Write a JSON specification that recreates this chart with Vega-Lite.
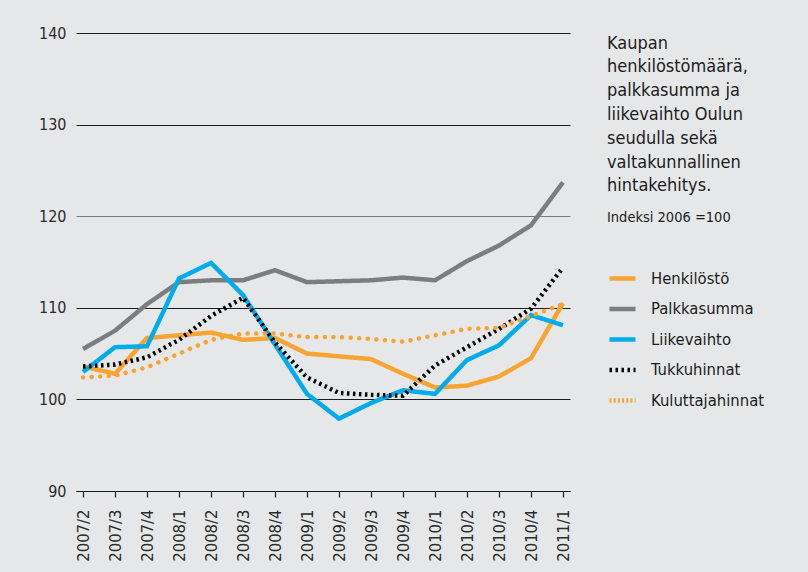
{
  "$schema": "https://vega.github.io/schema/vega-lite/v6.json",
  "width": 494,
  "height": 458,
  "autosize": {"type": "none"},
  "padding": {"left": 76, "top": 33, "right": 238, "bottom": 81},
  "background": "#e6e7e9",
  "config": {
    "view": {"stroke": null},
    "font": "DejaVu Sans Condensed, sans-serif",
    "legend": {
      "orient": "none",
      "legendX": 531,
      "legendY": 230,
      "symbolType": "stroke",
      "symbolSize": 676,
      "symbolStrokeWidth": 4.5,
      "labelFontSize": 16.5,
      "labelColor": "#1d1d1b",
      "labelOffset": 13,
      "rowPadding": 5.5,
      "labelFont": "DejaVu Sans Condensed, sans-serif"
    }
  },
  "title": {
    "text": ["Kaupan", "henkilöstömäärä,", "palkkasumma ja", "liikevaihto Oulun", "seudulla sekä", "valtakunnallinen", "hintakehitys."],
    "subtitle": "Indeksi 2006 =100",
    "anchor": "start",
    "frame": "group",
    "orient": "top",
    "dx": 531,
    "dy": 204,
    "fontSize": 18,
    "lineHeight": 23.8,
    "fontWeight": "normal",
    "color": "#1d1d1b",
    "font": "DejaVu Sans Condensed, sans-serif",
    "subtitleFont": "DejaVu Sans Condensed, sans-serif",
    "subtitleFontSize": 14.5,
    "subtitleColor": "#1d1d1b",
    "subtitlePadding": 16
  },
  "data": {
    "values": [
      {"period": "2007/2", "series": "Palkkasumma", "value": 105.5},
      {"period": "2007/3", "series": "Palkkasumma", "value": 107.5},
      {"period": "2007/4", "series": "Palkkasumma", "value": 110.4},
      {"period": "2008/1", "series": "Palkkasumma", "value": 112.8},
      {"period": "2008/2", "series": "Palkkasumma", "value": 113.0},
      {"period": "2008/3", "series": "Palkkasumma", "value": 113.0},
      {"period": "2008/4", "series": "Palkkasumma", "value": 114.1},
      {"period": "2009/1", "series": "Palkkasumma", "value": 112.8},
      {"period": "2009/2", "series": "Palkkasumma", "value": 112.9},
      {"period": "2009/3", "series": "Palkkasumma", "value": 113.0},
      {"period": "2009/4", "series": "Palkkasumma", "value": 113.3},
      {"period": "2010/1", "series": "Palkkasumma", "value": 113.0},
      {"period": "2010/2", "series": "Palkkasumma", "value": 115.1},
      {"period": "2010/3", "series": "Palkkasumma", "value": 116.8},
      {"period": "2010/4", "series": "Palkkasumma", "value": 119.0},
      {"period": "2011/1", "series": "Palkkasumma", "value": 123.7},
      {"period": "2007/2", "series": "Henkilöstö", "value": 103.6},
      {"period": "2007/3", "series": "Henkilöstö", "value": 102.8},
      {"period": "2007/4", "series": "Henkilöstö", "value": 106.7},
      {"period": "2008/1", "series": "Henkilöstö", "value": 107.0},
      {"period": "2008/2", "series": "Henkilöstö", "value": 107.3},
      {"period": "2008/3", "series": "Henkilöstö", "value": 106.5},
      {"period": "2008/4", "series": "Henkilöstö", "value": 106.7},
      {"period": "2009/1", "series": "Henkilöstö", "value": 105.0},
      {"period": "2009/2", "series": "Henkilöstö", "value": 104.7},
      {"period": "2009/3", "series": "Henkilöstö", "value": 104.4},
      {"period": "2009/4", "series": "Henkilöstö", "value": 102.8},
      {"period": "2010/1", "series": "Henkilöstö", "value": 101.3},
      {"period": "2010/2", "series": "Henkilöstö", "value": 101.5},
      {"period": "2010/3", "series": "Henkilöstö", "value": 102.5},
      {"period": "2010/4", "series": "Henkilöstö", "value": 104.5},
      {"period": "2011/1", "series": "Henkilöstö", "value": 110.5},
      {"period": "2007/2", "series": "Liikevaihto", "value": 103.0},
      {"period": "2007/3", "series": "Liikevaihto", "value": 105.7},
      {"period": "2007/4", "series": "Liikevaihto", "value": 105.8},
      {"period": "2008/1", "series": "Liikevaihto", "value": 113.2},
      {"period": "2008/2", "series": "Liikevaihto", "value": 114.9},
      {"period": "2008/3", "series": "Liikevaihto", "value": 111.4},
      {"period": "2008/4", "series": "Liikevaihto", "value": 106.0},
      {"period": "2009/1", "series": "Liikevaihto", "value": 100.6},
      {"period": "2009/2", "series": "Liikevaihto", "value": 97.9},
      {"period": "2009/3", "series": "Liikevaihto", "value": 99.6},
      {"period": "2009/4", "series": "Liikevaihto", "value": 101.0},
      {"period": "2010/1", "series": "Liikevaihto", "value": 100.6},
      {"period": "2010/2", "series": "Liikevaihto", "value": 104.3},
      {"period": "2010/3", "series": "Liikevaihto", "value": 105.9},
      {"period": "2010/4", "series": "Liikevaihto", "value": 109.2},
      {"period": "2011/1", "series": "Liikevaihto", "value": 108.1},
      {"period": "2007/2", "series": "Tukkuhinnat", "value": 103.6},
      {"period": "2007/3", "series": "Tukkuhinnat", "value": 103.8},
      {"period": "2007/4", "series": "Tukkuhinnat", "value": 104.6},
      {"period": "2008/1", "series": "Tukkuhinnat", "value": 106.5},
      {"period": "2008/2", "series": "Tukkuhinnat", "value": 109.1},
      {"period": "2008/3", "series": "Tukkuhinnat", "value": 111.1},
      {"period": "2008/4", "series": "Tukkuhinnat", "value": 106.2},
      {"period": "2009/1", "series": "Tukkuhinnat", "value": 102.4},
      {"period": "2009/2", "series": "Tukkuhinnat", "value": 100.7},
      {"period": "2009/3", "series": "Tukkuhinnat", "value": 100.5},
      {"period": "2009/4", "series": "Tukkuhinnat", "value": 100.4},
      {"period": "2010/1", "series": "Tukkuhinnat", "value": 103.7},
      {"period": "2010/2", "series": "Tukkuhinnat", "value": 105.7},
      {"period": "2010/3", "series": "Tukkuhinnat", "value": 107.7},
      {"period": "2010/4", "series": "Tukkuhinnat", "value": 109.9},
      {"period": "2011/1", "series": "Tukkuhinnat", "value": 114.4},
      {"period": "2007/2", "series": "Kuluttajahinnat", "value": 102.4},
      {"period": "2007/3", "series": "Kuluttajahinnat", "value": 102.6},
      {"period": "2007/4", "series": "Kuluttajahinnat", "value": 103.5},
      {"period": "2008/1", "series": "Kuluttajahinnat", "value": 105.0},
      {"period": "2008/2", "series": "Kuluttajahinnat", "value": 106.5},
      {"period": "2008/3", "series": "Kuluttajahinnat", "value": 107.2},
      {"period": "2008/4", "series": "Kuluttajahinnat", "value": 107.2},
      {"period": "2009/1", "series": "Kuluttajahinnat", "value": 106.8},
      {"period": "2009/2", "series": "Kuluttajahinnat", "value": 106.8},
      {"period": "2009/3", "series": "Kuluttajahinnat", "value": 106.6},
      {"period": "2009/4", "series": "Kuluttajahinnat", "value": 106.3},
      {"period": "2010/1", "series": "Kuluttajahinnat", "value": 107.0},
      {"period": "2010/2", "series": "Kuluttajahinnat", "value": 107.7},
      {"period": "2010/3", "series": "Kuluttajahinnat", "value": 107.8},
      {"period": "2010/4", "series": "Kuluttajahinnat", "value": 109.1},
      {"period": "2011/1", "series": "Kuluttajahinnat", "value": 110.4}
    ]
  },
  "encoding": {
    "x": {
      "field": "period",
      "type": "ordinal",
      "sort": null,
      "scale": {"type": "point", "padding": 0.21875},
      "axis": {
        "title": null,
        "labelAngle": 270,
        "labelAlign": "right",
        "labelBaseline": "middle",
        "grid": false,
        "domain": true,
        "domainColor": "#1d1d1b",
        "domainWidth": 1.2,
        "ticks": true,
        "tickSize": 6,
        "tickColor": "#1d1d1b",
        "tickWidth": 1.2,
        "labelPadding": 12,
        "labelFontSize": 16.5,
        "labelColor": "#2b2b2b",
        "labelFont": "DejaVu Sans Condensed, sans-serif"
      }
    },
    "y": {
      "field": "value",
      "type": "quantitative",
      "scale": {"domain": [90, 140], "nice": false, "zero": false},
      "axis": {
        "title": null,
        "domain": false,
        "ticks": false,
        "grid": true,
        "values": [90, 100, 110, 120, 130, 140],
        "gridColor": {"condition": {"test": "datum.value === 120", "value": "#7a7a7a"}, "value": "#1d1d1b"},
        "gridWidth": 1.2,
        "labelPadding": 10,
        "labelFontSize": 16,
        "labelColor": "#2b2b2b",
        "labelFont": "DejaVu Sans Condensed, sans-serif"
      }
    },
    "color": {
      "field": "series",
      "type": "nominal",
      "scale": {
        "domain": ["Henkilöstö", "Palkkasumma", "Liikevaihto", "Tukkuhinnat", "Kuluttajahinnat"],
        "range": ["#f8a431", "#7c7d80", "#00acec", "#000000", "#f8a431"]
      },
      "legend": {"title": null}
    }
  },
  "layer": [
    {
      "transform": [{"filter": {"field": "series", "oneOf": ["Palkkasumma", "Henkilöstö", "Liikevaihto", "Tukkuhinnat"]}}],
      "mark": {"type": "line", "strokeWidth": 4.5, "strokeCap": "butt", "strokeJoin": "miter"},
      "encoding": {
        "strokeDash": {
          "field": "series",
          "type": "nominal",
          "scale": {
            "domain": ["Henkilöstö", "Palkkasumma", "Liikevaihto", "Tukkuhinnat", "Kuluttajahinnat"],
            "range": [[1, 0], [1, 0], [1, 0], [2.5, 3.5], [2, 2.2]]
          },
          "legend": {"title": null}
        }
      }
    },
    {
      "transform": [{"filter": {"field": "series", "equal": "Kuluttajahinnat"}}],
      "mark": {"type": "line", "strokeWidth": 4.5, "strokeCap": "round", "strokeDash": [0.1, 8.5]}
    }
  ]
}
